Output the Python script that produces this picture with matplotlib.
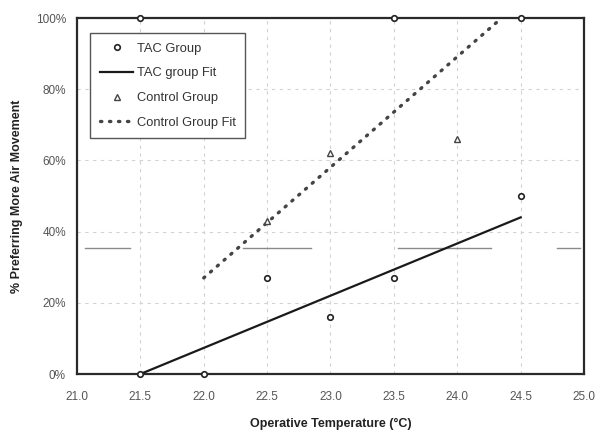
import numpy as np
import matplotlib.pyplot as plt
from matplotlib.ticker import PercentFormatter

plt.rcParams['font.family'] = ['Liberation Sans', 'DejaVu Sans']

# Survey responses: share preferring more air movement at each operative temperature
tac_temp = [21.5, 21.5, 22.0, 22.5, 23.0, 23.5, 23.5, 24.5, 24.5]
tac_pct = [100, 0, 0, 27, 16, 27, 100, 100, 50]
control_temp = [22.5, 23.0, 24.0]
control_pct = [43, 62, 66]

# Linear fits (end points)
tac_fit_temp = [21.5, 24.5]
tac_fit_pct = [0, 44]
control_fit_temp = [22.0, 24.35]
control_fit_pct = [27, 100]

# Faint horizontal reference segments around 35%
ref_pct = 35.5
ref_spans = [(21.06, 21.42), (22.31, 22.85), (23.53, 24.27), (24.79, 24.97)]

x_ticks = np.arange(21.0, 25.01, 0.5)
y_ticks = [0, 20, 40, 60, 80, 100]

fig = plt.figure(figsize=(5.99, 4.30), dpi=100)
ax = fig.add_axes([0.1285, 0.1302, 0.8465, 0.8279])

ax.set_xlim(21.0, 25.0)
ax.set_ylim(0, 100)
ax.set_xticks(x_ticks)
ax.set_yticks(y_ticks)
ax.xaxis.set_major_formatter(lambda v, p: f"{v:.1f}")
ax.yaxis.set_major_formatter(PercentFormatter(decimals=0))

# broken light grid
ax.grid(True, color='#d2d2d2', linestyle=(0, (3, 4)), linewidth=0.8)
ax.set_axisbelow(True)

for x0, x1 in ref_spans:
    ax.plot([x0, x1], [ref_pct, ref_pct], color='#8a8a8a', linewidth=1.0, zorder=2)

ax.plot(tac_fit_temp, tac_fit_pct, color='#1a1a1a', linewidth=1.6,
        label='TAC group Fit', zorder=3)
ax.plot(control_fit_temp, control_fit_pct, color='#444444', linewidth=2.4,
        linestyle=(0, (0.4, 2.3)), dash_capstyle='round',
        label='Control Group Fit', zorder=3)

ax.plot(tac_temp, tac_pct, linestyle='none', marker='o', markersize=4,
        markerfacecolor='white', markeredgecolor='#222222', markeredgewidth=1.2,
        label='TAC Group', zorder=4, clip_on=False)
ax.plot(control_temp, control_pct, linestyle='none', marker='^', markersize=4,
        markerfacecolor='white', markeredgecolor='#444444', markeredgewidth=1.0,
        label='Control Group', zorder=4)

for side in ['left', 'bottom', 'top', 'right']:
    ax.spines[side].set_color('#2a2a2a')
    ax.spines[side].set_linewidth(1.6)

ax.tick_params(axis='both', length=0, labelsize=8.5, labelcolor='#555555')
ax.tick_params(axis='x', pad=12)
ax.tick_params(axis='y', pad=8)

ax.set_xlabel('Operative Temperature (°C)', fontsize=9, fontweight='bold',
              color='#222222', labelpad=11)
ax.set_ylabel('% Preferring More Air Movement', fontsize=9, fontweight='bold',
              color='#222222', labelpad=9)

handles, labels = ax.get_legend_handles_labels()
order = [labels.index(n) for n in ['TAC Group', 'TAC group Fit', 'Control Group', 'Control Group Fit']]
leg = ax.legend([handles[i] for i in order], [labels[i] for i in order],
                loc='upper left', bbox_to_anchor=(0.026, 0.958), borderaxespad=0,
                fontsize=9.3, frameon=True, fancybox=False, framealpha=1,
                edgecolor='#555555', handlelength=2.6, handletextpad=0.25,
                labelspacing=0.98, borderpad=0.75, labelcolor='#333333')
leg.get_frame().set_linewidth(1.0)

fig.savefig('out.png', dpi=100, facecolor='white')
